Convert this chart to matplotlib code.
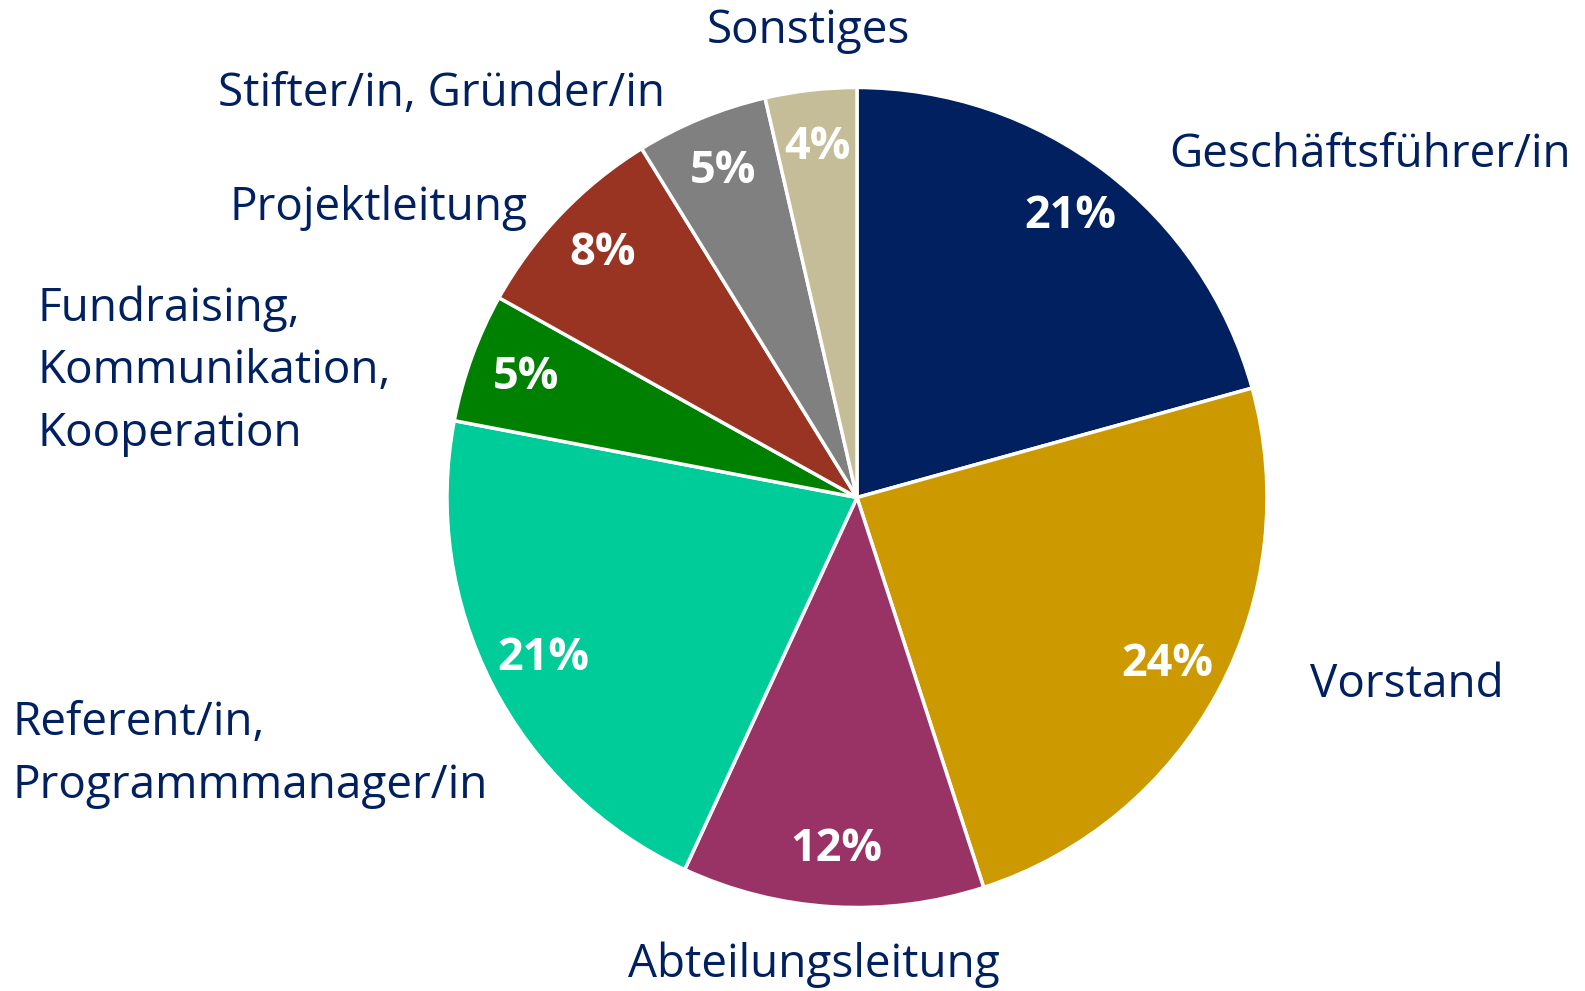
import matplotlib
matplotlib.use("Agg")
import matplotlib.pyplot as plt
import math

labels = ["Geschäftsführer/in", "Vorstand", "Abteilungsleitung",
          "Referent/in,\nProgrammmanager/in", "Fundraising,\nKommunikation,\nKooperation",
          "Projektleitung", "Stifter/in, Gründer/in", "Sonstiges"]
values = [20.7, 24.3, 11.9, 21.1, 5.1, 8.1, 5.2, 3.6]
colors = ["#002060", "#CC9900", "#993366", "#00CC99", "#008000", "#993322", "#808080", "#C4BD97"]

# label anchor positions (in units of pie radius) and alignment
label_pos = [(0.761, 0.835, "left"), (1.106, -0.458, "left"), (-0.106, -1.140, "center"),
             (-2.059, -0.626, "left"), (-2.0, 0.308, "left"), (-0.803, 0.707, "right"),
             (-0.468, 0.985, "right"), (-0.118, 1.138, "center")]

plt.rcParams['font.family'] = ['Open Sans', 'DejaVu Sans']
fig = plt.figure(figsize=(15.85, 9.91), dpi=100)
cx, cy, R = 857, 497.5, 410
ax = fig.add_axes([(cx - R) / 1585, (991 - cy - R) / 991, 2 * R / 1585, 2 * R / 991])

wedges, texts = ax.pie(values, colors=colors, startangle=90, counterclock=False,
                       wedgeprops=dict(edgecolor="white", linewidth=2.5), radius=1)
tot = sum(values)
ang = 90.0
for v, w in zip(values, wedges):
    mid = ang - v / tot * 180
    ang -= v / tot * 360
    r = 0.86
    ax.text(r * math.cos(math.radians(mid)), r * math.sin(math.radians(mid)),
            "%d%%" % round(v), ha="center", va="center", color="white",
            fontsize=32.5, fontweight="bold")

for lab, (x, y, ha) in zip(labels, label_pos):
    ax.text(x, y, lab, ha=ha, va="center", color="#002060", fontsize=33, linespacing=1.48)

ax.set_xlim(-1, 1)
ax.set_ylim(-1, 1)
ax.set_aspect("equal")
ax.axis("off")
fig.savefig("out.png", dpi=100)
